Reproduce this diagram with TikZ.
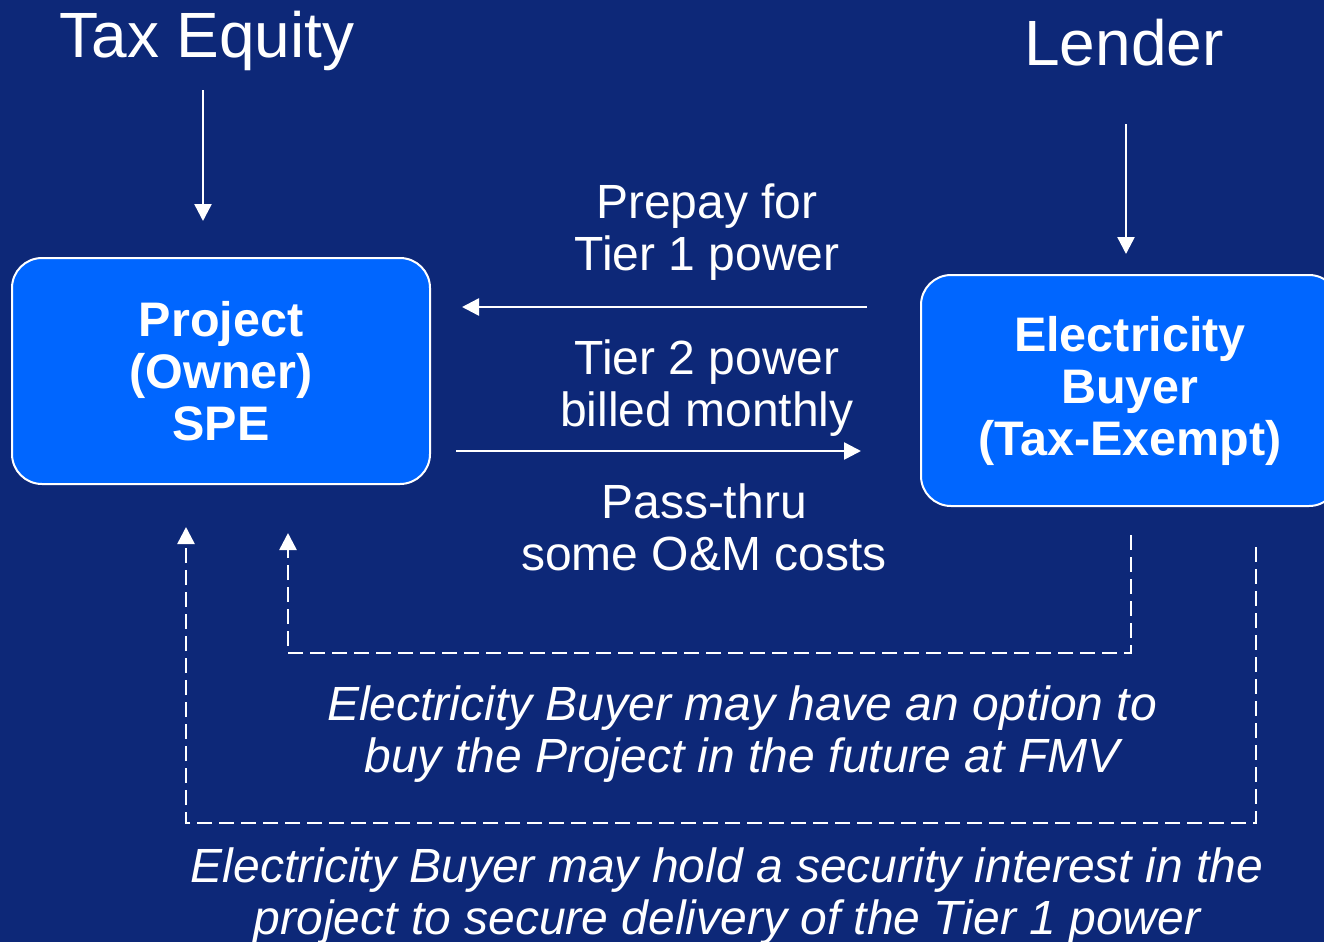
\documentclass[tikz,border=0pt]{standalone}
\usepackage{fontspec}
\setmainfont{Liberation Sans}
\usetikzlibrary{arrows.meta}
\definecolor{navy}{RGB}{13,40,120}
\definecolor{boxblue}{RGB}{0,102,255}
\begin{document}
\begin{tikzpicture}[x=1pt,y=-1pt,
  party/.style={draw=white,line width=2pt,fill=boxblue,rounded corners=30pt,
    text=white,font=\fontsize{48.5}{52}\selectfont\bfseries,align=center,
    minimum width=418pt,minimum height=226pt,inner sep=0pt},
  heading/.style={text=white,font=\fontsize{64}{70}\selectfont,anchor=base,inner sep=0pt},
  flowlabel/.style={text=white,font=\fontsize{48}{52}\selectfont,align=center,inner sep=0pt},
  note/.style={text=white,font=\fontsize{48}{52}\selectfont\itshape,align=center,inner sep=0pt},
  flow/.style={draw=white,line width=2.5pt,-{Triangle[width=17pt,length=17pt]}},
  dashflow/.style={flow,dash pattern=on 15pt off 7pt}]
  % page and background
  \fill[navy] (0,0) rectangle (1324,942);
  \clip (0,0) rectangle (1324,942);
  \useasboundingbox (0,0) rectangle (1324,942);

  % parties
  \node[heading] (teq) at (207,58) {Tax Equity};
  \node[heading] (lender) at (1124,65) {Lender};
  \node[party] (spe) at (221,371) {Project\\(Owner)\\SPE};
  \node[party,minimum height=231pt] (buyer) at (1130,390.5) {Electricity\\Buyer\\(Tax-Exempt)};

  % flow labels
  \node[flowlabel] (prepay) at (707,232) {Prepay for\\Tier 1 power};
  \node[flowlabel] (tier2) at (707,388) {Tier 2 power\\billed monthly};
  \node[flowlabel] (passthru) at (704,527) {Pass-thru\\some O\&M costs};
  \node[note] (option) at (742,734) {Electricity Buyer may have an option to\\buy the Project in the future at FMV};
  \node[note] (security) at (727,896) {Electricity Buyer may hold a security interest in the\\project to secure delivery of the Tier 1 power};

  % connector end points
  \coordinate (teq-out) at (203,90);
  \coordinate (spe-in-top) at (203,221);
  \coordinate (lender-out) at (1126,124);
  \coordinate (buyer-in-top) at (1126,254);
  \coordinate (buyer-out-w) at (867,307);
  \coordinate (spe-in-e) at (462,307);
  \coordinate (spe-out-e) at (456,451);
  \coordinate (buyer-in-w) at (861,451);
  \coordinate (buyer-opt) at (1131,535);
  \coordinate (spe-opt) at (288,533);
  \coordinate (buyer-sec) at (1256,547);
  \coordinate (spe-sec) at (186,527);

  % solid flows
  \draw[flow] (teq-out) -- (spe-in-top);
  \draw[flow] (lender-out) -- (buyer-in-top);
  \draw[flow] (buyer-out-w) -- (spe-in-e);
  \draw[flow] (spe-out-e) -- (buyer-in-w);

  % dashed option / security links
  \draw[dashflow] (buyer-opt) -- (buyer-opt |- 0,653) -- (spe-opt |- 0,653) -- (spe-opt);
  \draw[dashflow] (buyer-sec) -- (buyer-sec |- 0,823) -- (spe-sec |- 0,823) -- (spe-sec);
\end{tikzpicture}
\end{document}
